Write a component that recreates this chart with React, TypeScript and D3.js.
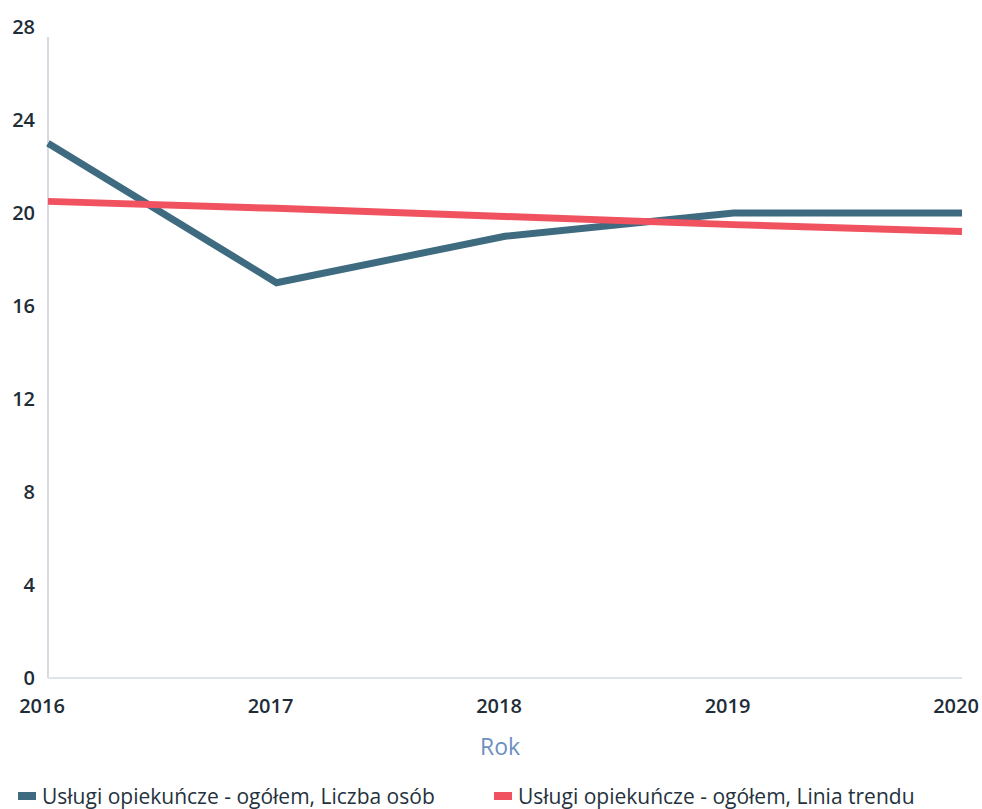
import React, { useEffect, useRef } from "react";
import * as d3 from "d3";

const years = ["2016", "2017", "2018", "2019", "2020"];
const liczbaOsob = [23, 17, 19, 20, 20];
const liniaTrendu = [20.5, 20.2, 19.85, 19.5, 19.2];
const yTicks = [0, 4, 8, 12, 16, 20, 24, 28];
const seriesNames = [
  "Usługi opiekuńcze - ogółem, Liczba osób",
  "Usługi opiekuńcze - ogółem, Linia trendu",
];
const colors = ["#3e6b80", "#f0525f"];

const App = () => {
  const svgRef = useRef<SVGSVGElement>(null);
  const width = 982;
  const height = 809;

  useEffect(() => {
    const svg = d3.select(svgRef.current);
    svg.selectAll("*").remove();

    const left = 48;
    const right = 962;
    const top = 27;
    const bottom = 678;
    const font = "'Open Sans', sans-serif";

    const x = d3.scalePoint().domain(years).range([left, right]);
    const y = d3.scaleLinear().domain([0, 28]).range([bottom, top]);

    // axis lines
    svg
      .append("line")
      .attr("x1", left)
      .attr("x2", left)
      .attr("y1", top + 10)
      .attr("y2", bottom)
      .attr("stroke", "#d6dbe3")
      .attr("stroke-width", 2);
    svg
      .append("line")
      .attr("x1", left)
      .attr("x2", right)
      .attr("y1", bottom)
      .attr("y2", bottom)
      .attr("stroke", "#dfe4ea")
      .attr("stroke-width", 2);

    // y tick labels
    svg
      .selectAll("text.ytick")
      .data(yTicks)
      .enter()
      .append("text")
      .attr("class", "ytick")
      .attr("x", 35)
      .attr("y", (d) => y(d))
      .attr("dy", "0.35em")
      .attr("text-anchor", "end")
      .style("font-family", font)
      .style("font-size", "20px")
      .style("font-weight", 600)
      .style("fill", "#1e2d38")
      .text((d) => d);

    // x tick labels
    svg
      .selectAll("text.xtick")
      .data(years)
      .enter()
      .append("text")
      .attr("class", "xtick")
      .attr("x", (d) => (x(d) as number) - 6)
      .attr("y", 713)
      .attr("text-anchor", "middle")
      .style("font-family", font)
      .style("font-size", "20px")
      .style("font-weight", 600)
      .style("fill", "#1e2d38")
      .text((d) => d);

    // axis title
    svg
      .append("text")
      .attr("x", 500)
      .attr("y", 755)
      .attr("text-anchor", "middle")
      .style("font-family", font)
      .style("font-size", "23px")
      .style("fill", "#6d8fbf")
      .text("Rok");

    const line = d3
      .line<number>()
      .x((_, i) => x(years[i]) as number);

    [liczbaOsob, liniaTrendu].forEach((series, k) => {
      svg
        .append("path")
        .datum(series)
        .attr("fill", "none")
        .attr("stroke", colors[k])
        .attr("stroke-width", 7)
        .attr("stroke-linejoin", "miter")
        .attr("d", line.y((d) => y(d)));
    });

    // legend
    const legendX = [18, 494];
    seriesNames.forEach((name, k) => {
      const g = svg.append("g").attr("transform", `translate(${legendX[k]}, 797)`);
      g.append("rect")
        .attr("x", 0)
        .attr("y", -5)
        .attr("width", 18)
        .attr("height", 8)
        .attr("fill", colors[k]);
      g.append("text")
        .attr("x", 24)
        .attr("y", 0)
        .attr("dy", "0.35em")
        .style("font-family", font)
        .style("font-size", "21px")
        .style("fill", "#24323d")
        .text(name);
    });
  }, []);

  return (
    <svg
      ref={svgRef}
      width={width}
      height={height}
      style={{ position: "absolute", left: 0, top: 0, background: "#fff" }}
    ></svg>
  );
};

export default App;
